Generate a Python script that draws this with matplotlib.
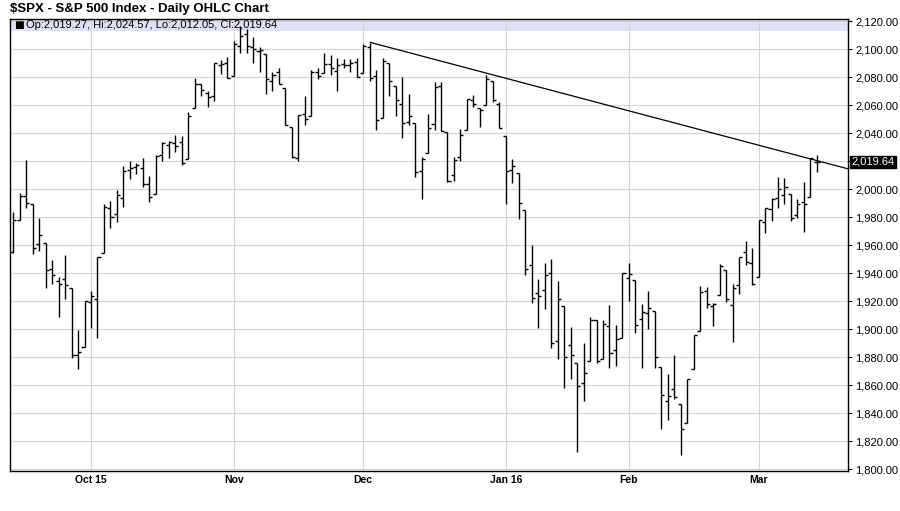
import matplotlib
matplotlib.use("Agg")
import matplotlib.pyplot as plt
from matplotlib import font_manager
from matplotlib.patches import Rectangle
import matplotlib.transforms as mtransforms
import numpy as np
import pandas as pd

# ---------------- data ----------------
holidays = ["2015-11-26", "2015-12-25", "2016-01-01", "2016-01-18", "2016-02-15"]
dates = pd.bdate_range("2015-09-15", "2016-03-14", freq="C", holidays=holidays)

opens = [
    1955.0, 1978.0, 1995.3, 1989.7, 1960.8, 1961.4, 1943.2, 1934.8, 1935.9, 1929.2, 1881.9, 1887.1,
    1919.6, 1921.8, 1954.3, 1986.6, 1982.3, 1994.0, 2013.7, 2015.7, 2015.0, 2003.7, 1996.5, 2024.4,
    2031.7, 2033.1, 2033.5, 2021.9, 2058.2, 2075.1, 2068.8, 2066.5, 2088.4, 2090.2,
    2080.8, 2102.6, 2110.6, 2101.7, 2098.6, 2096.6, 2077.2, 2083.4, 2072.3, 2044.6, 2022.1, 2053.7,
    2052.0, 2083.7, 2082.8, 2089.4, 2084.4, 2089.3, 2088.8, 2090.9,
    2082.9, 2101.7, 2080.7, 2051.2, 2090.4, 2073.4, 2061.2, 2047.9, 2047.3, 2013.4, 2025.6, 2046.5,
    2073.8, 2040.8, 2010.3, 2023.2, 2042.2, 2063.5, 2057.8, 2060.5, 2077.3, 2060.6,
    2038.2, 2013.8, 2011.7, 1985.3, 1946.0, 1926.1, 1927.8, 1940.3, 1891.7, 1916.7, 1888.7, 1876.2,
    1861.5, 1877.4, 1906.3, 1878.8, 1902.5, 1885.2, 1894.0,
    1936.9, 1935.3, 1907.1, 1911.7, 1913.1, 1873.3, 1848.5, 1857.1, 1847.0, 1833.4, 1871.4, 1898.8,
    1927.6, 1916.7, 1924.4, 1942.4, 1917.6, 1931.9, 1955.0, 1947.1,
    1937.1, 1976.6, 1985.6, 1994.0, 1996.1, 1996.9, 1981.4, 1991.0, 1994.7, 2019.27,
]
highs = [
    1983.8, 1997.3, 2020.9, 1989.7, 1979.6, 1961.4, 1949.5, 1937.2, 1952.9, 1929.2, 1899.5, 1920.5,
    1927.2, 1951.4, 1989.2, 1991.6, 1999.3, 2016.5, 2020.1, 2018.7, 2022.3, 2009.6, 2024.2, 2033.5,
    2034.5, 2039.1, 2038.0, 2055.2, 2079.7, 2075.1, 2070.4, 2090.4, 2092.5, 2094.3,
    2106.2, 2116.5, 2114.6, 2108.8, 2101.9, 2096.6, 2083.7, 2086.9, 2072.3, 2044.6, 2053.2, 2066.7,
    2085.3, 2086.7, 2097.1, 2095.6, 2094.1, 2093.0, 2093.3, 2093.8,
    2103.4, 2104.3, 2085.0, 2093.8, 2090.4, 2073.4, 2080.3, 2067.7, 2047.3, 2022.9, 2053.9, 2076.7,
    2076.4, 2040.8, 2022.9, 2042.7, 2064.7, 2067.4, 2057.8, 2081.6, 2077.3, 2062.5,
    2038.2, 2021.9, 2011.7, 1985.3, 1960.4, 1935.7, 1947.4, 1950.3, 1934.5, 1916.7, 1901.4, 1876.2,
    1889.9, 1908.9, 1906.3, 1906.7, 1917.0, 1903.0, 1940.2,
    1947.2, 1935.3, 1918.0, 1927.4, 1913.1, 1873.3, 1868.3, 1881.6, 1847.0, 1864.8, 1895.8, 1930.7,
    1930.0, 1918.8, 1946.7, 1942.4, 1932.1, 1951.8, 1963.0, 1958.3,
    1978.4, 1986.5, 1993.7, 2009.1, 2008.2, 1996.9, 1992.7, 2005.1, 2022.4, 2024.57,
]
lows = [
    1954.7, 1977.9, 1986.7, 1953.5, 1955.7, 1929.3, 1932.1, 1908.9, 1921.5, 1879.2, 1871.9, 1887.1,
    1900.7, 1893.7, 1954.3, 1972.0, 1976.4, 1987.5, 2007.6, 2010.6, 2001.8, 1990.7, 1996.5, 2020.5,
    2022.3, 2026.6, 2017.2, 2021.9, 2058.2, 2066.5, 2058.8, 2063.1, 2082.6, 2079.3,
    2080.8, 2097.5, 2097.0, 2090.4, 2083.7, 2068.2, 2069.9, 2074.9, 2045.7, 2022.0, 2019.9, 2045.9,
    2052.0, 2078.8, 2082.8, 2081.4, 2070.3, 2086.3, 2084.1, 2080.4,
    2082.9, 2077.1, 2042.4, 2051.2, 2066.8, 2052.3, 2036.5, 2045.7, 2008.8, 1993.3, 2025.6, 2042.4,
    2041.7, 2005.3, 2005.9, 2020.5, 2042.2, 2058.7, 2044.2, 2060.5, 2062.0, 2043.6,
    1989.7, 2004.2, 1979.1, 1938.8, 1918.5, 1901.1, 1914.4, 1886.4, 1878.9, 1857.8, 1864.6, 1812.3,
    1849.0, 1877.4, 1876.0, 1878.8, 1872.7, 1873.7, 1894.0,
    1920.0, 1897.3, 1872.2, 1900.5, 1872.7, 1828.5, 1834.9, 1850.3, 1810.1, 1833.4, 1871.4, 1898.8,
    1915.1, 1902.2, 1924.4, 1919.4, 1891.0, 1925.4, 1945.8, 1931.8,
    1937.1, 1968.8, 1977.4, 1986.8, 1989.5, 1977.4, 1979.8, 1969.3, 1994.7, 2012.05,
]
closes = [
    1978.1, 1995.3, 1990.2, 1958.0, 1967.0, 1942.7, 1938.8, 1932.2, 1931.3, 1881.8, 1884.1, 1920.0,
    1923.8, 1951.4, 1987.1, 1979.9, 1995.8, 2013.4, 2014.9, 2017.5, 2003.7, 1994.2, 2023.9, 2033.1,
    2033.7, 2030.8, 2018.9, 2052.5, 2075.2, 2071.2, 2065.9, 2090.4, 2089.4, 2079.4,
    2104.1, 2109.8, 2102.3, 2099.9, 2099.2, 2078.6, 2081.7, 2075.0, 2046.0, 2023.0, 2053.2, 2050.4,
    2083.6, 2081.2, 2089.2, 2086.6, 2089.1, 2088.9, 2090.1, 2080.4,
    2102.6, 2079.5, 2049.6, 2091.7, 2077.1, 2063.6, 2047.6, 2052.2, 2012.4, 2021.9, 2043.4, 2073.1,
    2041.9, 2005.6, 2021.2, 2039.0, 2064.3, 2061.0, 2056.5, 2078.4, 2063.4, 2043.9,
    2012.7, 2016.7, 1990.3, 1943.1, 1922.0, 1923.7, 1938.7, 1890.3, 1921.8, 1880.3, 1881.3, 1859.3,
    1869.0, 1906.9, 1877.1, 1903.6, 1883.0, 1893.4, 1940.2,
    1939.4, 1903.0, 1912.5, 1915.5, 1880.1, 1853.4, 1852.2, 1851.9, 1829.1, 1864.8, 1895.6, 1926.8,
    1917.8, 1917.8, 1945.5, 1921.3, 1929.8, 1951.7, 1948.1, 1932.2,
    1978.4, 1986.5, 1993.4, 2000.0, 2001.8, 1979.3, 1989.3, 1989.6, 2022.2, 2019.64,
]
month_labels = ["Oct 15", "Nov", "Dec", "Jan 16", "Feb", "Mar"]
y_ticks = list(range(1800, 2121, 20))
trend_anchor_date = "2015-12-02"
trend_anchor_price = 2105.0
trend_slope_per_bar = -1.225
last_label = "2,019.64"
header_text = "Op:2,019.27, Hi:2,024.57, Lo:2,012.05, Cl:2,019.64"
title_text = "$SPX - S&P 500 Index - Daily OHLC Chart"

assert len(dates) == len(opens) == len(highs) == len(lows) == len(closes)

# ---------------- fonts ----------------
def has_font(name):
    try:
        font_manager.findfont(name, fallback_to_default=False)
        return True
    except Exception:
        return False

base_font = "Liberation Sans" if has_font("Liberation Sans") else "DejaVu Sans"
narrow_font = "Liberation Sans Narrow" if has_font("Liberation Sans Narrow") else base_font
plt.rcParams["font.family"] = [base_font, "DejaVu Sans"]

# ---------------- figure ----------------
W, H = 900, 511
fig = plt.figure(figsize=(W / 100, H / 100), dpi=100)
L, R, T, B = 10, 848, 19, 471
ax = fig.add_axes([L / W, (H - B) / H, (R - L) / W, (B - T) / H])

x = np.arange(len(dates))
o = np.array(opens); h = np.array(highs); lo = np.array(lows); c = np.array(closes)
tick_w = 0.47

ax.vlines(x, lo, h, color="black", lw=1.0, zorder=3)
ax.hlines(o, x - tick_w, x, color="black", lw=1.0, zorder=3)
ax.hlines(c, x, x + tick_w, color="black", lw=1.0, zorder=3)

xmin, xmax = -0.5, 128.8
ymin, ymax = 1798.8, 2121.6
ax.set_xlim(xmin, xmax)
ax.set_ylim(ymin, ymax)

# trend line
dates_str = [d.strftime("%Y-%m-%d") for d in dates]
i0 = dates_str.index(trend_anchor_date)
tx = np.array([i0, xmax])
ty = trend_anchor_price + trend_slope_per_bar * (tx - i0)
ax.plot(tx, ty, color="black", lw=0.9, zorder=4, solid_capstyle="butt")

# month ticks
month_idx = [i for i in range(1, len(dates)) if dates[i].month != dates[i - 1].month]
ax.set_xticks(month_idx)
ax.set_xticklabels(month_labels, fontsize=7.5, fontweight="bold", family=narrow_font)
ax.tick_params(axis="x", length=0, pad=3)

# y axis right
ax.yaxis.tick_right()
ax.set_yticks(y_ticks)
ylabels = ["" if v == 2020 else f"{v:,.2f}" for v in y_ticks]
ax.set_yticklabels(ylabels, fontsize=8)
ax.tick_params(axis="y", direction="out", length=3, width=0.8, pad=2, colors="black")

ax.grid(True, color="#d4d4d4", lw=0.8, zorder=1)
ax.set_axisbelow(True)

for s in ["left", "bottom", "right", "top"]:
    ax.spines[s].set_color("black")
    ax.spines[s].set_linewidth(1.0)

# header band
band_h = 12 / (B - T)
ax.add_patch(Rectangle((0, 1 - band_h), 1, band_h, transform=ax.transAxes,
                       facecolor="#e0e0f8", edgecolor="none", zorder=0.5))
ax.text(0.005, 1 - band_h / 2, "\u25A0", transform=ax.transAxes, fontsize=7.5,
        va="center", ha="left", color="black", zorder=5, family=["DejaVu Sans"])
ax.text(0.0185, 1 - band_h / 2, header_text, transform=ax.transAxes, fontsize=8,
        va="center", ha="left", color="black", zorder=5)

# last price label
trans = mtransforms.blended_transform_factory(ax.transAxes, ax.transData)
ax.text(1.004, c[-1], last_label, transform=trans, fontsize=8, color="white",
        va="center", ha="left", zorder=6,
        bbox=dict(boxstyle="square,pad=0.1", facecolor="black", edgecolor="black"))

# title
fig.text(10 / W, 1 - 9 / H, title_text, fontsize=9.5, fontweight="bold",
         va="center", ha="left", parse_math=False)

fig.savefig("out.png", dpi=100, facecolor="white")
